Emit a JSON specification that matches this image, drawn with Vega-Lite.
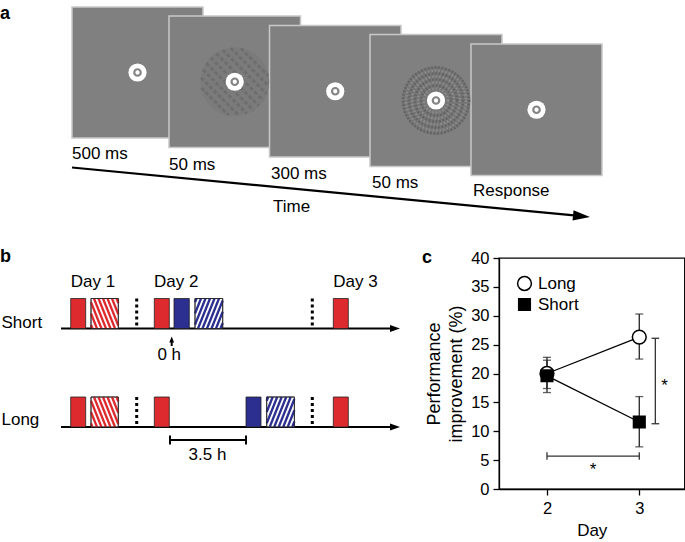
{
"$schema":"https://vega.github.io/schema/vega-lite/v6.json",
"padding":0,
"background":"white",
"spacing":18,
"config":{"view":{"stroke":null},"font":"Liberation Sans"},
"resolve":{"scale":{"x":"independent","y":"independent","fill":"independent","stroke":"independent","shape":"independent","size":"independent"}},
"vconcat":[
{
 "width":685,"height":230,
 "encoding":{
  "x":{"field":"x","type":"quantitative","scale":{"domain":[0,685],"nice":false,"zero":false},"axis":null},
  "y":{"field":"y","type":"quantitative","scale":{"domain":[0,230],"nice":false,"zero":false,"reverse":true},"axis":null}
 },
 "layer":[
  {"data":{"values":[
    {"x":72,"y":7,"x2":203,"y2":138},
    {"x":169,"y":16,"x2":300.5,"y2":147.5},
    {"x":269.5,"y":25.5,"x2":401,"y2":157},
    {"x":370,"y":34.5,"x2":502,"y2":166.5},
    {"x":471,"y":44,"x2":602,"y2":175.5}]},
   "mark":{"type":"rect","fill":"#808080","stroke":"#c8c8c8","strokeWidth":1.5},
   "encoding":{"x2":{"field":"x2"},"y2":{"field":"y2"}}},
  {"data":{"values":[
    {"x":234.75,"y":81.75,"stimulus":"grating"},
    {"x":436,"y":100.5,"stimulus":"noise"}]},
   "mark":{"type":"point","shape":"circle","filled":true,"size":4760,"opacity":1},
   "encoding":{"fill":{"field":"stimulus","type":"nominal","scale":{"domain":["grating","noise"],"range":["#7b7b7b","#767676"]},"legend":null}}},
  {"data":{"values":[
    {"x":210.71,"y":57.71,"x2":258.79,"y2":105.79},
    {"x":216.17,"y":53.27,"x2":263.23,"y2":100.33},
    {"x":206.27,"y":63.17,"x2":253.33,"y2":110.23},
    {"x":222.74,"y":49.94,"x2":266.56,"y2":93.76},
    {"x":202.94,"y":69.74,"x2":246.76,"y2":113.56},
    {"x":230.69,"y":47.99,"x2":268.51,"y2":85.81},
    {"x":200.99,"y":77.69,"x2":238.81,"y2":115.51},
    {"x":240.91,"y":48.31,"x2":268.19,"y2":75.59},
    {"x":201.31,"y":87.91,"x2":228.59,"y2":115.19}]},
   "mark":{"type":"rule","color":"#5f5f5f","strokeWidth":3,"opacity":0.45,"strokeDash":[4,2]},
   "encoding":{"x2":{"field":"x2"},"y2":{"field":"y2"}}},
  {"data":{"values":[
    {"x":436,"y":100.5,"ring":"dark","d":66},
    {"x":436,"y":100.5,"ring":"light","d":60},
    {"x":436,"y":100.5,"ring":"dark","d":54},
    {"x":436,"y":100.5,"ring":"light","d":48},
    {"x":436,"y":100.5,"ring":"dark","d":42},
    {"x":436,"y":100.5,"ring":"light","d":36},
    {"x":436,"y":100.5,"ring":"dark","d":30},
    {"x":436,"y":100.5,"ring":"light","d":24}]},
   "mark":{"type":"point","shape":"circle","filled":false,"strokeWidth":2.5,"strokeDash":[1.5,2],"opacity":0.45},
   "encoding":{"size":{"field":"d","type":"quantitative","scale":{"type":"pow","exponent":2,"domain":[0,66],"range":[0,4356]},"legend":null},
     "stroke":{"field":"ring","type":"nominal","scale":{"domain":["dark","light"],"range":["#4a4a4a","#a8a8a8"]},"legend":null}}},
  {"data":{"values":[
    {"x":137.5,"y":72.5},{"x":234.75,"y":81.75},{"x":335.25,"y":91.25},{"x":436,"y":100.5},{"x":536.5,"y":109.75}]},
   "mark":{"type":"point","shape":"circle","filled":true,"fill":"white","size":330,"opacity":1}},
  {"data":{"values":[
    {"x":137.5,"y":72.5},{"x":234.75,"y":81.75},{"x":335.25,"y":91.25},{"x":436,"y":100.5},{"x":536.5,"y":109.75}]},
   "mark":{"type":"point","shape":"circle","filled":true,"fill":"white","stroke":"#858585","strokeWidth":2.2,"size":42,"opacity":1}},
  {"data":{"values":[
    {"x":72,"y":158.5,"label":"500 ms"},
    {"x":169,"y":169.5,"label":"50 ms"},
    {"x":271,"y":178.5,"label":"300 ms"},
    {"x":372,"y":188,"label":"50 ms"},
    {"x":473,"y":196,"label":"Response"},
    {"x":273,"y":211.5,"label":"Time"}]},
   "mark":{"type":"text","align":"left","baseline":"alphabetic","fontSize":17,"color":"black"},
   "encoding":{"text":{"field":"label"}}},
  {"data":{"values":[{"x":0,"y":19,"label":"a"}]},
   "mark":{"type":"text","align":"left","baseline":"alphabetic","fontSize":18,"fontWeight":"bold","color":"black"},
   "encoding":{"text":{"field":"label"}}},
  {"data":{"values":[{"x":72,"y":167.5,"x2":582,"y2":216.2}]},
   "mark":{"type":"rule","color":"black","strokeWidth":2.2},
   "encoding":{"x2":{"field":"x2"},"y2":{"field":"y2"}}},
  {"data":{"values":[{"x":581.5,"y":216.2}]},
   "mark":{"type":"point","shape":"M -1 -0.6 L 1 0 L -1 0.6 Z","filled":true,"fill":"black","size":289,"angle":5.46,"opacity":1}}
 ]
},
{
 "spacing":21,
 "resolve":{"scale":{"x":"independent","y":"independent","fill":"independent","stroke":"independent","shape":"independent","size":"independent"}},
 "hconcat":[
 {
  "width":400,"height":231,
  "encoding":{
   "x":{"field":"x","type":"quantitative","scale":{"domain":[0,400],"nice":false,"zero":false},"axis":null},
   "y":{"field":"y","type":"quantitative","scale":{"domain":[258,489],"nice":false,"zero":false,"reverse":true},"axis":null}
  },
  "layer":[
   {"data":{"values":[{"x":61,"y":328.5,"x2":394,"y2":328.5},{"x":61,"y":427,"x2":394,"y2":427}]},
    "mark":{"type":"rule","color":"black","strokeWidth":2},
    "encoding":{"x2":{"field":"x2"},"y2":{"field":"y2"}}},
   {"data":{"values":[{"x":395,"y":328.5},{"x":395,"y":427}]},
    "mark":{"type":"point","shape":"M -1 -0.7 L 1 0 L -1 0.7 Z","filled":true,"fill":"black","size":100,"opacity":1}},
   {"data":{"values":[
     {"x":70.7,"x2":85.7,"y":298.5,"y2":328.5,"type":"red"},
     {"x":91,"x2":118.3,"y":298.5,"y2":328.5,"type":"red striped"},
     {"x":154.3,"x2":169.3,"y":298.5,"y2":328.5,"type":"red"},
     {"x":174,"x2":189.3,"y":298.5,"y2":328.5,"type":"blue"},
     {"x":195,"x2":222.7,"y":298.5,"y2":328.5,"type":"blue striped"},
     {"x":333.3,"x2":348.3,"y":298.5,"y2":328.5,"type":"red"},
     {"x":70.7,"x2":85.7,"y":397,"y2":427,"type":"red"},
     {"x":91,"x2":118.3,"y":397,"y2":427,"type":"red striped"},
     {"x":154.3,"x2":169.3,"y":397,"y2":427,"type":"red"},
     {"x":246,"x2":261,"y":397,"y2":427,"type":"blue"},
     {"x":266.7,"x2":294.4,"y":397,"y2":427,"type":"blue striped"},
     {"x":333.3,"x2":348.3,"y":397,"y2":427,"type":"red"}]},
    "mark":{"type":"rect","stroke":"#222222","strokeWidth":0.8},
    "encoding":{"x2":{"field":"x2"},"y2":{"field":"y2"},
      "fill":{"field":"type","type":"nominal","scale":{"domain":["red","blue","red striped","blue striped"],"range":["#dd2a2e","#2c2f8f","white","white"]},"legend":null}}},
   {"data":{"values":[
     {"x":91,"y":324.75,"x2":92.5,"y2":328.5,"type":"red striped"},
     {"x":91,"y":313.5,"x2":97,"y2":328.5,"type":"red striped"},
     {"x":91,"y":302.25,"x2":101.5,"y2":328.5,"type":"red striped"},
     {"x":94,"y":298.5,"x2":106,"y2":328.5,"type":"red striped"},
     {"x":98.5,"y":298.5,"x2":110.5,"y2":328.5,"type":"red striped"},
     {"x":103,"y":298.5,"x2":115,"y2":328.5,"type":"red striped"},
     {"x":107.5,"y":298.5,"x2":118.3,"y2":325.5,"type":"red striped"},
     {"x":112,"y":298.5,"x2":118.3,"y2":314.25,"type":"red striped"},
     {"x":116.5,"y":298.5,"x2":118.3,"y2":303,"type":"red striped"},
     {"x":91,"y":423.25,"x2":92.5,"y2":427,"type":"red striped"},
     {"x":91,"y":412,"x2":97,"y2":427,"type":"red striped"},
     {"x":91,"y":400.75,"x2":101.5,"y2":427,"type":"red striped"},
     {"x":94,"y":397,"x2":106,"y2":427,"type":"red striped"},
     {"x":98.5,"y":397,"x2":110.5,"y2":427,"type":"red striped"},
     {"x":103,"y":397,"x2":115,"y2":427,"type":"red striped"},
     {"x":107.5,"y":397,"x2":118.3,"y2":424,"type":"red striped"},
     {"x":112,"y":397,"x2":118.3,"y2":412.75,"type":"red striped"},
     {"x":116.5,"y":397,"x2":118.3,"y2":401.5,"type":"red striped"},
     {"x":195,"y":302.25,"x2":196.5,"y2":298.5,"type":"blue striped"},
     {"x":195,"y":313.5,"x2":201,"y2":298.5,"type":"blue striped"},
     {"x":195,"y":324.75,"x2":205.5,"y2":298.5,"type":"blue striped"},
     {"x":198,"y":328.5,"x2":210,"y2":298.5,"type":"blue striped"},
     {"x":202.5,"y":328.5,"x2":214.5,"y2":298.5,"type":"blue striped"},
     {"x":207,"y":328.5,"x2":219,"y2":298.5,"type":"blue striped"},
     {"x":211.5,"y":328.5,"x2":222.7,"y2":300.5,"type":"blue striped"},
     {"x":216,"y":328.5,"x2":222.7,"y2":311.75,"type":"blue striped"},
     {"x":220.5,"y":328.5,"x2":222.7,"y2":323,"type":"blue striped"},
     {"x":266.7,"y":400.75,"x2":268.2,"y2":397,"type":"blue striped"},
     {"x":266.7,"y":412,"x2":272.7,"y2":397,"type":"blue striped"},
     {"x":266.7,"y":423.25,"x2":277.2,"y2":397,"type":"blue striped"},
     {"x":269.7,"y":427,"x2":281.7,"y2":397,"type":"blue striped"},
     {"x":274.2,"y":427,"x2":286.2,"y2":397,"type":"blue striped"},
     {"x":278.7,"y":427,"x2":290.7,"y2":397,"type":"blue striped"},
     {"x":283.2,"y":427,"x2":294.4,"y2":399,"type":"blue striped"},
     {"x":287.7,"y":427,"x2":294.4,"y2":410.25,"type":"blue striped"},
     {"x":292.2,"y":427,"x2":294.4,"y2":421.5,"type":"blue striped"}]},
    "mark":{"type":"rule","strokeWidth":2.3},
    "encoding":{"x2":{"field":"x2"},"y2":{"field":"y2"},
      "stroke":{"field":"type","type":"nominal","scale":{"domain":["red striped","blue striped"],"range":["#dd2a2e","#2c2f8f"]},"legend":null}}},
   {"data":{"values":[
     {"x":91,"x2":118.3,"y":298.5,"y2":328.5},
     {"x":195,"x2":222.7,"y":298.5,"y2":328.5},
     {"x":91,"x2":118.3,"y":397,"y2":427},
     {"x":266.7,"x2":294.4,"y":397,"y2":427}]},
    "mark":{"type":"rect","fillOpacity":0,"stroke":"#222222","strokeWidth":0.8},
    "encoding":{"x2":{"field":"x2"},"y2":{"field":"y2"}}},
   {"data":{"values":[
     {"x":136.7,"y":298.5,"x2":136.7,"y2":328.5},
     {"x":312.3,"y":298.5,"x2":312.3,"y2":328.5},
     {"x":136.7,"y":397,"x2":136.7,"y2":427},
     {"x":312.3,"y":397,"x2":312.3,"y2":427}]},
    "mark":{"type":"rule","color":"black","strokeWidth":3,"strokeDash":[3,3]},
    "encoding":{"x2":{"field":"x2"},"y2":{"field":"y2"}}},
   {"data":{"values":[
     {"x":171.7,"y":346,"x2":171.7,"y2":340},
     {"x":170,"y":440,"x2":246,"y2":440},
     {"x":170,"y":435.5,"x2":170,"y2":444.5},
     {"x":246,"y":435.5,"x2":246,"y2":444.5}]},
    "mark":{"type":"rule","color":"black","strokeWidth":2},
    "encoding":{"x2":{"field":"x2"},"y2":{"field":"y2"}}},
   {"data":{"values":[{"x":171.7,"y":339.5}]},
    "mark":{"type":"point","shape":"M -0.8 1 L 0 -1 L 0.8 1 Z","filled":true,"fill":"black","size":36,"opacity":1}},
   {"data":{"values":[
     {"x":70.7,"y":286.5,"label":"Day 1"},
     {"x":154,"y":286.5,"label":"Day 2"},
     {"x":333.3,"y":286.5,"label":"Day 3"},
     {"x":1.5,"y":327.5,"label":"Short"},
     {"x":1.5,"y":425,"label":"Long"}]},
    "mark":{"type":"text","align":"left","baseline":"alphabetic","fontSize":17,"color":"black"},
    "encoding":{"text":{"field":"label"}}},
   {"data":{"values":[
     {"x":169.2,"y":360,"label":"0 h"},
     {"x":207.5,"y":459.5,"label":"3.5 h"}]},
    "mark":{"type":"text","align":"center","baseline":"alphabetic","fontSize":17,"color":"black"},
    "encoding":{"text":{"field":"label"}}},
   {"data":{"values":[{"x":0,"y":262,"label":"b"}]},
    "mark":{"type":"text","align":"left","baseline":"alphabetic","fontSize":18,"fontWeight":"bold","color":"black"},
    "encoding":{"text":{"field":"label"}}}
  ]
 },
 {
  "width":185.5,"height":231,
  "view":{"stroke":"black","strokeWidth":1.3},
  "data":{"values":[
    {"day":2,"series":"Long","mean":20.0,"lo":17.4,"hi":22.3},
    {"day":3,"series":"Long","mean":26.3,"lo":22.5,"hi":30.3},
    {"day":2,"series":"Short","mean":19.6,"lo":16.7,"hi":22.8},
    {"day":3,"series":"Short","mean":11.6,"lo":7.3,"hi":16.0}]},
  "encoding":{
   "x":{"field":"day","type":"quantitative","scale":{"domain":[1.48,3.49],"nice":false,"zero":false},
        "axis":{"values":[2,3],"format":"d","title":"Day","grid":false,"tickSize":6,"tickWidth":1.3,"tickColor":"black","domainColor":"black","domainWidth":1.3,
                "labelFontSize":16.5,"labelColor":"black","labelPadding":5,"labelFont":"Liberation Sans","titleFont":"Liberation Sans","labelOverlap":false,
                "titleFontSize":17,"titleFontWeight":"normal","titleColor":"black","titlePadding":6}},
   "y":{"field":"mean","type":"quantitative","scale":{"domain":[0,40],"nice":false,"zero":false},
        "axis":{"values":[0,5,10,15,20,25,30,35,40],"format":"d","title":["Performance","improvement (%)"],"grid":false,"tickSize":6,"tickWidth":1.3,"tickColor":"black",
                "domainColor":"black","domainWidth":1.3,"labelFontSize":16.5,"labelColor":"black","labelPadding":4,"labelFont":"Liberation Sans","labelOverlap":false,"labelSeparation":0,
                "titleFont":"Liberation Sans","titleFontSize":18,"titleFontWeight":"normal","titleColor":"black","titleLineHeight":22,"titlePadding":5}}
  },
  "layer":[
   {"mark":{"type":"errorbar","ticks":{"size":8,"thickness":1.3,"color":"#222222"},"rule":{"strokeWidth":1.3,"color":"#222222"}},
    "encoding":{"y":{"field":"lo","type":"quantitative"},"y2":{"field":"hi"}}},
   {"mark":{"type":"line","color":"black","strokeWidth":1.3},
    "encoding":{"detail":{"field":"series","type":"nominal"}}},
   {"mark":{"type":"point","filled":true,"strokeWidth":1.5,"opacity":1},
    "encoding":{
     "shape":{"field":"series","type":"nominal","scale":{"domain":["Long","Short"],"range":["circle","square"]},
       "legend":{"title":null,"orient":"top-left","offset":17,"padding":0,"labelFontSize":17,"labelColor":"black","labelFont":"Liberation Sans","labelOffset":5,"rowPadding":1,"symbolStrokeWidth":1.5}},
     "fill":{"field":"series","type":"nominal","scale":{"domain":["Long","Short"],"range":["white","black"]},
       "legend":{"title":null,"orient":"top-left","offset":17,"padding":0,"labelFontSize":17,"labelColor":"black","labelFont":"Liberation Sans","labelOffset":5,"rowPadding":1,"symbolStrokeWidth":1.5}},
     "stroke":{"field":"series","type":"nominal","scale":{"domain":["Long","Short"],"range":["black","black"]},
       "legend":{"title":null,"orient":"top-left","offset":17,"padding":0,"labelFontSize":17,"labelColor":"black","labelFont":"Liberation Sans","labelOffset":5,"rowPadding":1,"symbolStrokeWidth":1.5}},
     "size":{"field":"series","type":"nominal","scale":{"domain":["Long","Short"],"range":[190,135]},
       "legend":{"title":null,"orient":"top-left","offset":17,"padding":0,"labelFontSize":17,"labelColor":"black","labelFont":"Liberation Sans","labelOffset":5,"rowPadding":1,"symbolStrokeWidth":1.5}}}},
   {"data":{"values":[
     {"day":2,"day2":3,"mean":5.7,"val2":5.7},
     {"day":2,"day2":2,"mean":5.05,"val2":6.35},
     {"day":3,"day2":3,"mean":5.05,"val2":6.35},
     {"day":3.174,"day2":3.174,"mean":11.3,"val2":26.1},
     {"day":3.133,"day2":3.216,"mean":26.1,"val2":26.1},
     {"day":3.133,"day2":3.216,"mean":11.3,"val2":11.3}]},
    "mark":{"type":"rule","color":"#333333","strokeWidth":1.3},
    "encoding":{"x2":{"field":"day2"},"y2":{"field":"val2"}}},
   {"data":{"values":[{"day":2.5,"mean":2.5,"label":"*"},{"day":3.275,"mean":17.0,"label":"*"}]},
    "mark":{"type":"text","align":"center","baseline":"alphabetic","fontSize":17,"color":"black"},
    "encoding":{"text":{"field":"label"}}},
   {"data":{"values":[{"day":0.645,"mean":39.1,"label":"c"}]},
    "mark":{"type":"text","align":"left","baseline":"alphabetic","fontSize":18,"fontWeight":"bold","color":"black"},
    "encoding":{"text":{"field":"label"}}}
  ]
 }
 ]
}
]
}
